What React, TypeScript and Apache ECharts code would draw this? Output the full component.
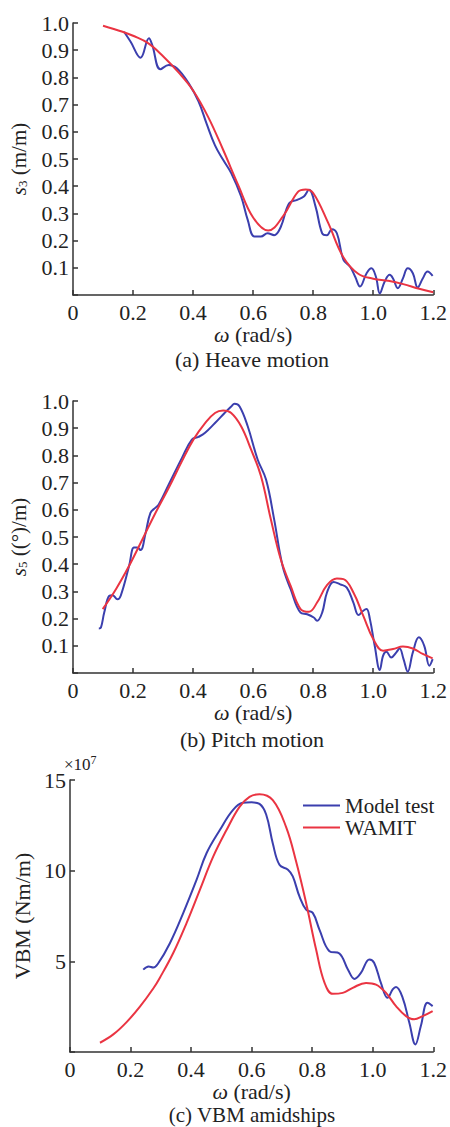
import React, { useEffect, useRef } from "react";
import * as echarts from "echarts";

// ---------- Data ----------
// (a) Heave motion
const heaveTest: [number, number][] = [
  [0.17, 0.968], [0.192, 0.931], [0.225, 0.872], [0.253, 0.944], [0.264, 0.919], [0.291, 0.83],
  [0.319, 0.846], [0.346, 0.834], [0.385, 0.779], [0.418, 0.712], [0.445, 0.63], [0.473, 0.55],
  [0.5, 0.497], [0.527, 0.448], [0.56, 0.362], [0.582, 0.276], [0.604, 0.215], [0.626, 0.215],
  [0.648, 0.227], [0.67, 0.22], [0.692, 0.25], [0.72, 0.337], [0.747, 0.35], [0.769, 0.362],
  [0.786, 0.387], [0.808, 0.325], [0.83, 0.227], [0.846, 0.22], [0.862, 0.242], [0.879, 0.227],
  [0.901, 0.129], [0.923, 0.104], [0.94, 0.067], [0.956, 0.031], [0.978, 0.08], [0.994, 0.098],
  [1.009, 0.067], [1.022, 0.006], [1.038, 0.049], [1.055, 0.074], [1.066, 0.061], [1.082, 0.025],
  [1.099, 0.061], [1.115, 0.098], [1.132, 0.08], [1.148, 0.028], [1.165, 0.061], [1.181, 0.086],
  [1.198, 0.07],
];
const heaveWamit: [number, number][] = [
  [0.1, 0.99], [0.165, 0.968], [0.2, 0.953], [0.25, 0.926], [0.3, 0.878], [0.35, 0.82], [0.4, 0.752],
  [0.45, 0.655], [0.5, 0.534], [0.55, 0.405], [0.6, 0.285], [0.65, 0.237], [0.7, 0.29], [0.75, 0.38],
  [0.775, 0.388], [0.8, 0.375], [0.85, 0.265], [0.9, 0.14], [0.95, 0.078], [1.0, 0.06], [1.05, 0.052],
  [1.1, 0.04], [1.15, 0.024], [1.2, 0.01],
];

// (b) Pitch motion
const pitchTest: [number, number][] = [
  [0.086, 0.164], [0.093, 0.167], [0.104, 0.222], [0.121, 0.284], [0.132, 0.286], [0.148, 0.271],
  [0.159, 0.284], [0.187, 0.394], [0.203, 0.461], [0.214, 0.461], [0.225, 0.452], [0.242, 0.516],
  [0.258, 0.589], [0.275, 0.608], [0.286, 0.62], [0.319, 0.693], [0.363, 0.791], [0.396, 0.858],
  [0.418, 0.868], [0.44, 0.883], [0.473, 0.919], [0.505, 0.956], [0.527, 0.98], [0.538, 0.99],
  [0.555, 0.98], [0.582, 0.907], [0.615, 0.785], [0.643, 0.711], [0.67, 0.565], [0.698, 0.394],
  [0.725, 0.308], [0.758, 0.222], [0.78, 0.216], [0.802, 0.204], [0.813, 0.192], [0.83, 0.222],
  [0.846, 0.296], [0.868, 0.335], [0.89, 0.326], [0.912, 0.314], [0.934, 0.259], [0.951, 0.213],
  [0.967, 0.229], [0.978, 0.235], [0.989, 0.198], [1.005, 0.1], [1.022, 0.011], [1.033, 0.064],
  [1.044, 0.078], [1.06, 0.057], [1.077, 0.076], [1.088, 0.09], [1.101, 0.051], [1.115, 0.005],
  [1.132, 0.076], [1.152, 0.131], [1.17, 0.1], [1.187, 0.027], [1.198, 0.051],
];
const pitchWamit: [number, number][] = [
  [0.099, 0.235], [0.143, 0.308], [0.187, 0.394], [0.231, 0.491], [0.275, 0.589], [0.319, 0.681],
  [0.363, 0.779], [0.401, 0.858], [0.44, 0.919], [0.473, 0.956], [0.5, 0.965], [0.527, 0.956],
  [0.56, 0.907], [0.593, 0.822], [0.626, 0.724], [0.659, 0.565], [0.692, 0.418], [0.725, 0.32],
  [0.758, 0.235], [0.786, 0.225], [0.813, 0.259], [0.846, 0.323], [0.879, 0.347], [0.901, 0.345],
  [0.934, 0.296], [0.967, 0.21], [1.0, 0.125], [1.033, 0.082], [1.066, 0.088], [1.099, 0.097],
  [1.132, 0.09], [1.165, 0.07], [1.198, 0.054],
];

// (c) VBM amidships (×10^7 Nm/m)
const vbmTest: [number, number][] = [
  [0.242, 4.54], [0.26, 4.72], [0.275, 4.66], [0.29, 4.85], [0.33, 6.0], [0.374, 7.66], [0.418, 9.49],
  [0.451, 10.96], [0.495, 12.24], [0.538, 13.34], [0.571, 13.74], [0.6, 13.77], [0.626, 13.68],
  [0.648, 13.1], [0.67, 11.5], [0.692, 10.32], [0.72, 10.05], [0.736, 9.68],
  [0.758, 8.58], [0.78, 7.85], [0.802, 7.67], [0.824, 6.75], [0.857, 5.56], [0.89, 5.43],
  [0.918, 4.55], [0.94, 4.03], [0.961, 4.36], [0.989, 5.1], [1.005, 4.91], [1.027, 3.81],
  [1.049, 2.99], [1.066, 3.45], [1.077, 3.59], [1.099, 2.99], [1.121, 1.61], [1.141, 0.42],
  [1.159, 1.43], [1.181, 2.71], [1.198, 2.53],
];
const vbmWamit: [number, number][] = [
  [0.099, 0.51], [0.143, 0.97], [0.187, 1.65], [0.231, 2.5], [0.275, 3.5], [0.297, 4.1],
  [0.341, 5.46], [0.385, 7.11], [0.429, 8.94], [0.473, 10.77], [0.517, 12.24], [0.56, 13.52],
  [0.593, 14.07], [0.626, 14.22], [0.67, 13.89], [0.714, 12.4], [0.747, 10.5], [0.78, 8.22],
  [0.813, 5.65], [0.841, 3.81], [0.868, 3.21], [0.901, 3.26], [0.934, 3.54], [0.978, 3.81],
  [1.011, 3.72], [1.044, 3.26], [1.077, 2.53], [1.11, 1.98], [1.137, 1.8], [1.165, 1.98],
  [1.198, 2.26],
];

const captions = ["(a) Heave motion", "(b) Pitch motion", "(c) VBM amidships"];
const legendNames = ["Model test", "WAMIT"];

// ---------- Styling ----------
const FONT = "Liberation Serif";
const BLUE = "#3b3fae";
const RED = "#ea3442";
const INK = "#222";
const AXIS = "#333";
const FS = 22;

const gridTops = [23, 401, 780];
const captionY = [359, 739, 1115];
const GRID_H = 272;
const GRID_LEFT = 70;
const GRID_W = 364;

export default function App() {
  const ref = useRef<HTMLDivElement>(null);

  useEffect(() => {
    if (!ref.current) return;
    const chart = echarts.init(ref.current, undefined, { renderer: "svg" });

    const xAxisBase = (i: number) => ({
      type: "value" as const,
      gridIndex: i,
      min: 0,
      max: 1.2,
      interval: 0.2,
      name: "{w|ω} (rad/s)",
      nameLocation: "middle" as const,
      nameGap: i === 2 ? 27 : 28,
      nameTextStyle: {
        fontFamily: FONT,
        fontSize: FS,
        color: INK,
        lineHeight: 20,
        rich: { w: { fontFamily: FONT, fontStyle: "italic", fontSize: FS, color: INK, lineHeight: 20 } },
      },
      axisLine: { show: true, lineStyle: { color: AXIS, width: 1.5 } },
      axisTick: { show: true, inside: true, length: 5, lineStyle: { color: AXIS, width: 1.5 } },
      axisLabel: {
        fontFamily: FONT,
        fontSize: FS,
        color: INK,
        margin: 6,
        formatter: (v: number) => (v === 0 ? "0" : v.toFixed(1)),
      },
      splitLine: { show: false },
    });

    const yAxisBase = (i: number) => ({
      type: "value" as const,
      gridIndex: i,
      axisLine: { show: true, lineStyle: { color: AXIS, width: 1.5 } },
      axisTick: { show: true, inside: true, length: 5, lineStyle: { color: AXIS, width: 1.5 } },
      splitLine: { show: false },
      nameLocation: "middle" as const,
    });

    const subRich = {
      i: { fontFamily: FONT, fontStyle: "italic", fontSize: 21, color: INK },
      sub: { fontFamily: FONT, fontSize: 13, color: INK, verticalAlign: "bottom", padding: [8, 0, 0, 0] },
    };

    const lineSeries = (name: string, data: [number, number][], color: string, i: number) => ({
      type: "line" as const,
      name,
      xAxisIndex: i,
      yAxisIndex: i,
      data,
      smooth: 0.4,
      showSymbol: false,
      symbol: "none",
      lineStyle: { color, width: 2 },
      itemStyle: { color },
    });

    const option: any = {
      animation: false,
      backgroundColor: "#fff",
      textStyle: { fontFamily: FONT },
      grid: gridTops.map((t) => ({ left: GRID_LEFT, top: t, width: GRID_W, height: GRID_H })),
      xAxis: [xAxisBase(0), xAxisBase(1), xAxisBase(2)],
      yAxis: [
        {
          ...yAxisBase(0),
          min: 0,
          max: 1.0,
          interval: 0.1,
          name: "{i|s}{sub|3} (m/m)",
          nameGap: 44,
          nameTextStyle: { fontFamily: FONT, fontSize: 21, color: INK, rich: subRich },
          axisLabel: {
            fontFamily: FONT, fontSize: FS, color: INK, margin: 4,
            formatter: (v: number) => (v === 0 ? "" : v.toFixed(1)),
          },
        },
        {
          ...yAxisBase(1),
          min: 0,
          max: 1.0,
          interval: 0.1,
          name: "{i|s}{sub|5} ((°)/m)",
          nameGap: 44,
          nameTextStyle: { fontFamily: FONT, fontSize: 21, color: INK, rich: subRich },
          axisLabel: {
            fontFamily: FONT, fontSize: FS, color: INK, margin: 4,
            formatter: (v: number) => (v === 0 ? "" : v.toFixed(1)),
          },
        },
        {
          ...yAxisBase(2),
          min: 0,
          max: 15,
          interval: 5,
          name: "VBM (Nm/m)",
          nameGap: 34,
          nameTextStyle: { fontFamily: FONT, fontSize: FS, color: INK },
          axisLabel: {
            fontFamily: FONT, fontSize: FS, color: INK, margin: 4,
            formatter: (v: number) => (v === 0 ? "" : String(v)),
          },
        },
      ],
      legend: {
        data: legendNames,
        orient: "vertical",
        left: 298,
        top: 790,
        icon: "rect",
        itemWidth: 37,
        itemHeight: 2,
        itemGap: 1,
        textStyle: { fontFamily: FONT, fontSize: 21, color: INK, lineHeight: 21 },
        selectedMode: false,
      },
      series: [
        lineSeries("heave test", heaveTest, BLUE, 0),
        lineSeries("heave wamit", heaveWamit, RED, 0),
        lineSeries("pitch test", pitchTest, BLUE, 1),
        lineSeries("pitch wamit", pitchWamit, RED, 1),
        lineSeries(legendNames[0], vbmTest, BLUE, 2),
        lineSeries(legendNames[1], vbmWamit, RED, 2),
      ],
      graphic: [
        ...captions.map((c, i) => ({
          type: "text",
          x: GRID_LEFT + GRID_W / 2,
          y: captionY[i],
          style: {
            text: c,
            fontFamily: FONT,
            fontSize: i === 2 ? 21 : FS,
            lineHeight: 20,
            fill: INK,
            align: "center",
            verticalAlign: "middle",
          },
        })),
        {
          type: "text",
          x: 64,
          y: 754,
          style: {
            text: "×10{s|7}",
            fontFamily: FONT,
            fontSize: 17,
            fill: INK,
            rich: { s: { fontFamily: FONT, fontSize: 12, fill: INK, verticalAlign: "top", padding: [0, 0, 8, 0] } },
          },
        },
      ],
    };

    chart.setOption(option);
    return () => chart.dispose();
  }, []);

  return (
    <div
      ref={ref}
      style={{ position: "fixed", left: 0, top: 0, width: 450, height: 1127, background: "#fff" }}
    />
  );
}
